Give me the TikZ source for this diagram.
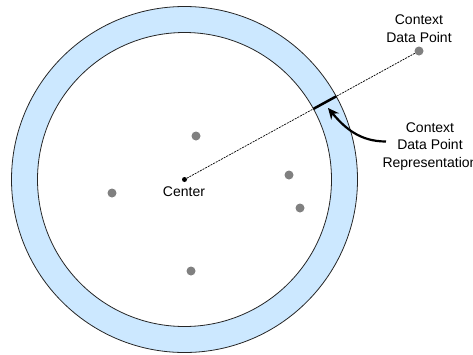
\documentclass[tikz,border=0pt]{standalone}
\usepackage{fontspec}
\setmainfont{Liberation Sans}
\usepackage{xcolor}
\usetikzlibrary{arrows.meta,calc}

\definecolor{ringblue}{RGB}{204,232,255}
\definecolor{dotgray}{RGB}{128,128,128}

\begin{document}
\begin{tikzpicture}[x=1pt, y=-1pt, every node/.style={font=\fontsize{14}{17.5}\selectfont},
  datapoint/.style={circle, fill=dotgray, inner sep=0pt, minimum size=9pt},
  centerpoint/.style={circle, fill=black, inner sep=0pt, minimum size=5pt}]
  \useasboundingbox (0,0) rectangle (473,354);
  % ring of the representations
  \filldraw[fill=ringblue, draw=black!85, line width=0.8pt, even odd rule]
  (184.5,179.5) circle (173pt) (184.5,179.5) circle (147pt);
  % points
  \node[centerpoint] (center) at (184.5,179.5) {};
  \node at (184,192) (centerlabel) {Center};
  \node[datapoint] (p1) at (196,136) {};
  \node[datapoint] (p2) at (112,193) {};
  \node[datapoint] (p3) at (289,175) {};
  \node[datapoint] (p4) at (300,208) {};
  \node[datapoint] (p5) at (191,271) {};
  \node[datapoint] (ctx) at (419,51) {};
  \node[align=center] (ctxlabel) at (419,28.5) {Context\\Data Point};
  \draw[dash pattern=on 2pt off 1pt, line width=0.7pt] (center) -- (ctx);
  % representation on the ring
  \coordinate (rin) at ($(center)!147pt!(ctx)$);
  \coordinate (rout) at ($(center)!173pt!(ctx)$);
  \draw[line width=2.5pt] (rin) -- (rout);
  \node[align=center] (replabel) at (430,146.5) {Context\\Data Point\\Representation};
  \coordinate (tip) at (328,108);
  \draw[line width=2.2pt, -{Stealth[length=11pt,width=10pt]}]
  ([xshift=7pt,yshift=5pt]replabel.west) to[out=180,in=-50] (tip);
\end{tikzpicture}
\end{document}
